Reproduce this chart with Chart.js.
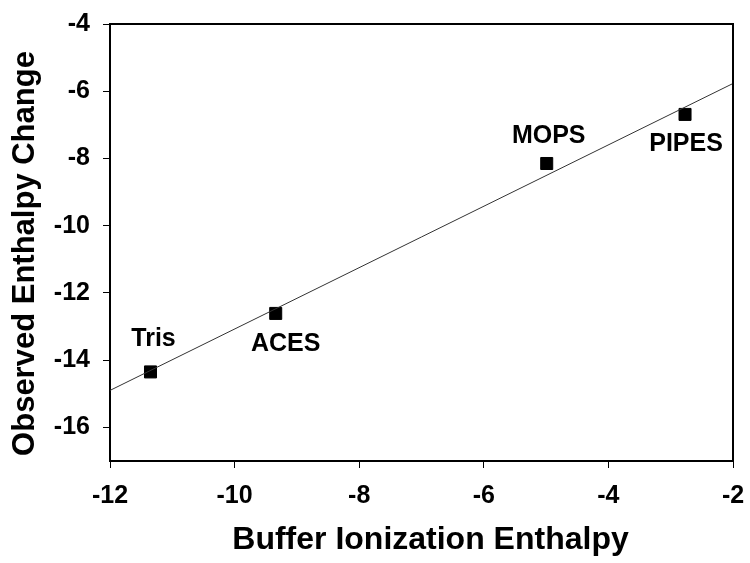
<!DOCTYPE html>
<html>
<head>
<meta charset="utf-8">
<script src="https://cdn.jsdelivr.net/npm/chart.js@4/dist/chart.umd.min.js"></script>
<style>
  html, body { margin: 0; padding: 0; background: #fff; }
  #wrap { width: 750px; height: 563px; }
</style>
</head>
<body>
<div id="wrap"><canvas id="enthalpyChart" width="750" height="563"></canvas></div>
<script>
// Buffer data
const buffers = ['Tris', 'ACES', 'MOPS', 'PIPES'];
const ionizationEnthalpy = [-11.35, -9.34, -4.99, -2.77];
const observedEnthalpy = [-14.35, -12.61, -8.15, -6.69];

// Fitted line, read at the plot edges
const fitX = [-12, -2];
const fitY = [-14.9, -5.77];

const xTicks = [-12, -10, -8, -6, -4, -2];
const yTicks = [-16, -14, -12, -10, -8, -6, -4];

const xTitle = 'Buffer Ionization Enthalpy';
const yTitle = 'Observed Enthalpy Change';

const FONT = '"Liberation Sans", Arial, sans-serif';

// label offsets from each marker (pixels)
const labelOffsets = {
    Tris: [3, -33],
    ACES: [10, 31],
    MOPS: [2, -27],
    PIPES: [1, 30]
};

const frameBox = {
    id: 'frameBox',
    afterDatasetsDraw(chart) {
        const { ctx, chartArea: a } = chart;
        ctx.save();
        ctx.strokeStyle = '#000';
        ctx.lineWidth = 2;
        ctx.beginPath();
        ctx.moveTo(a.left, a.top);
        ctx.lineTo(a.right, a.top);
        ctx.lineTo(a.right, a.bottom);
        ctx.stroke();
        ctx.restore();
    }
};

const pointLabels = {
    id: 'pointLabels',
    afterDatasetsDraw(chart) {
        const { ctx } = chart;
        const xs = chart.scales.x, ys = chart.scales.y;
        ctx.save();
        ctx.fillStyle = '#000';
        ctx.font = 'bold 25px ' + FONT;
        ctx.textAlign = 'center';
        ctx.textBaseline = 'middle';
        buffers.forEach((name, i) => {
            const off = labelOffsets[name];
            const px = xs.getPixelForValue(ionizationEnthalpy[i]) + off[0];
            const py = ys.getPixelForValue(observedEnthalpy[i]) + off[1];
            ctx.fillText(name, px, py);
        });
        ctx.restore();
    }
};

// axis titles drawn by hand, they sit a little off-centre in the original
const axisTitles = {
    id: 'axisTitles',
    afterDraw(chart) {
        const { ctx, chartArea: a } = chart;
        ctx.save();
        ctx.fillStyle = '#000';
        ctx.textAlign = 'center';
        ctx.textBaseline = 'middle';
        ctx.font = 'bold 32px ' + FONT;
        ctx.fillText(xTitle, (a.left + a.right) / 2 + 9, 540);
        ctx.translate(25, (a.top + a.bottom) / 2 + 11);
        ctx.rotate(-Math.PI / 2);
        ctx.font = 'bold 31px ' + FONT;
        ctx.fillText(yTitle, 0, 0);
        ctx.restore();
    }
};

const ctx = document.getElementById('enthalpyChart').getContext('2d');
new Chart(ctx, {
    type: 'scatter',
    data: {
        datasets: [{
            label: 'Fit',
            type: 'line',
            data: fitX.map((x, i) => ({ x, y: fitY[i] })),
            borderColor: '#333',
            borderWidth: 1,
            pointRadius: 0,
            fill: false,
            tension: 0
        }, {
            label: 'Buffers',
            data: ionizationEnthalpy.map((x, i) => ({ x, y: observedEnthalpy[i] })),
            pointStyle: 'rect',
            pointRadius: 8.5,
            backgroundColor: '#000',
            borderColor: '#000',
            borderWidth: 1
        }]
    },
    options: {
        responsive: false,
        animation: false,
        layout: { padding: { left: 0, right: 17, top: 24, bottom: 0 } },
        plugins: {
            legend: { display: false },
            tooltip: { enabled: false }
        },
        scales: {
            x: {
                type: 'linear',
                min: -12,
                max: -2,
                afterBuildTicks(scale) { scale.ticks = xTicks.map(v => ({ value: v })); },
                afterFit(scale) {
                    scale.height = 102;
                    scale.paddingLeft = 0;
                    scale.paddingRight = 0;
                },
                grid: { drawOnChartArea: false, drawTicks: true, tickLength: 7, color: '#000', tickWidth: 1 },
                border: { color: '#000', width: 2 },
                ticks: {
                    color: '#000',
                    padding: 13,
                    maxRotation: 0,
                    font: { family: FONT, size: 25, weight: 'bold' }
                },
                title: { display: false }
            },
            y: {
                type: 'linear',
                min: -17,
                max: -4,
                afterBuildTicks(scale) { scale.ticks = yTicks.map(v => ({ value: v })); },
                afterFit(scale) {
                    scale.width = 110;
                    scale.paddingTop = 0;
                    scale.paddingBottom = 0;
                },
                grid: { drawOnChartArea: false, drawTicks: true, tickLength: 7, color: '#000', tickWidth: 1 },
                border: { color: '#000', width: 2 },
                ticks: {
                    color: '#000',
                    padding: 13,
                    font: { family: FONT, size: 25, weight: 'bold' }
                },
                title: { display: false }
            }
        }
    },
    plugins: [frameBox, pointLabels, axisTitles]
});
</script>
</body>
</html>
